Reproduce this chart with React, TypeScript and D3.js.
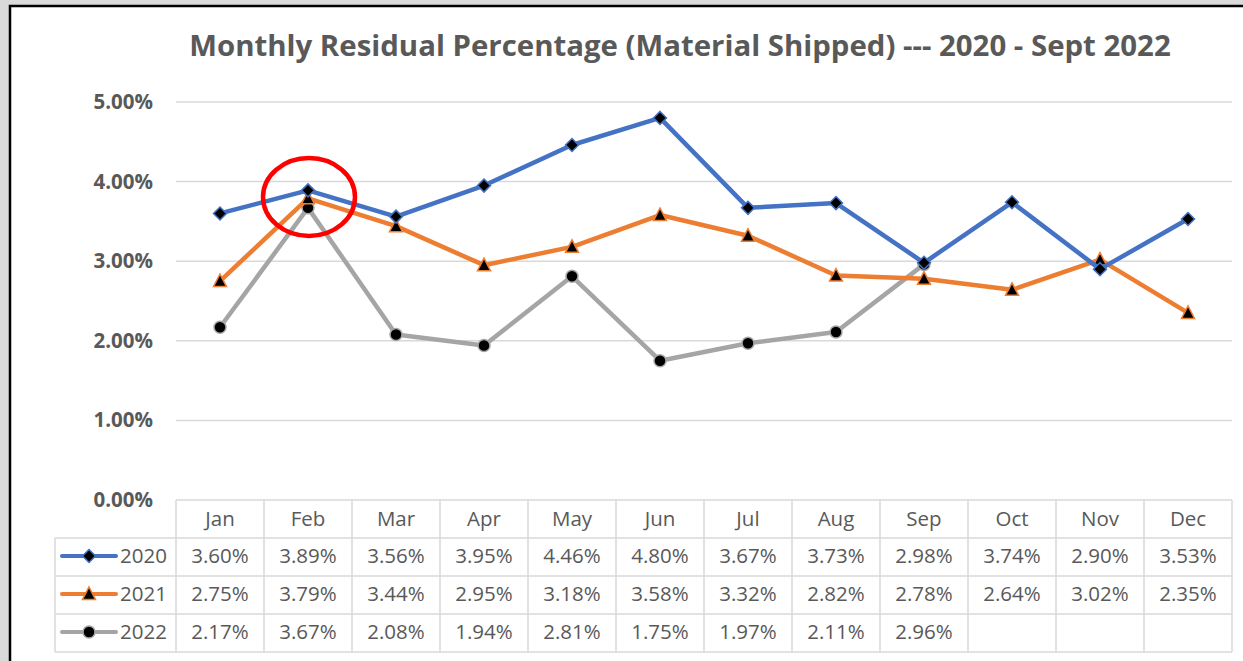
import React from 'react';
import * as d3 from 'd3';

const months = ['Jan', 'Feb', 'Mar', 'Apr', 'May', 'Jun', 'Jul', 'Aug', 'Sep', 'Oct', 'Nov', 'Dec'];
const years = ['2020', '2021', '2022'];
const values2020 = [3.6, 3.89, 3.56, 3.95, 4.46, 4.8, 3.67, 3.73, 2.98, 3.74, 2.9, 3.53];
const values2021 = [2.75, 3.79, 3.44, 2.95, 3.18, 3.58, 3.32, 2.82, 2.78, 2.64, 3.02, 2.35];
const values2022 = [2.17, 3.67, 2.08, 1.94, 2.81, 1.75, 1.97, 2.11, 2.96];
const yTicks = [0, 1, 2, 3, 4, 5];

const colors = ['#4472C4', '#ED7D31', '#A5A5A5'];
const textColor = '#595959';
const gridColor = '#d9d9d9';
const font = '"Open Sans", sans-serif';

const W = 1243;
const H = 661;
const plotLeft = 176;
const plotRight = 1232;
const tableTop = 500;
const rowH = 38;
const legendLeft = 55;

export default function App() {
  const series = [values2020, values2021, values2022];

  const x = d3.scaleBand<string>().domain(months).range([plotLeft, plotRight]);
  const y = d3.scaleLinear().domain([0, 5]).range([tableTop, 102]);
  const cx = (m: string) => (x(m) ?? 0) + x.bandwidth() / 2;

  const line = d3
    .line<number>()
    .x((_, i) => cx(months[i]))
    .y((d) => y(d));

  const marker = (k: number, px: number, py: number, key: string) => {
    if (k === 0) {
      return (
        <path key={key} d={`M${px},${py - 6.5}L${px + 6.5},${py}L${px},${py + 6.5}L${px - 6.5},${py}Z`}
          fill="#000" stroke={colors[0]} strokeWidth={1.5} />
      );
    }
    if (k === 1) {
      return (
        <path key={key} d={`M${px},${py - 7}L${px + 6.5},${py + 5.5}L${px - 6.5},${py + 5.5}Z`}
          fill="#000" stroke={colors[1]} strokeWidth={1.5} />
      );
    }
    return <circle key={key} cx={px} cy={py} r={6} fill="#000" stroke={colors[2]} strokeWidth={1.5} />;
  };

  const feb = cx('Feb');
  const fmt = d3.format('.2f');

  return (
    <svg width={W} height={H} style={{ position: 'absolute', left: 0, top: 0, fontFamily: font }}>
      <rect x={0} y={0} width={W} height={H} fill="#dadada" />
      <rect x={10} y={6} width={W + 10} height={H + 10} fill="#fff" stroke="#000" strokeWidth={2.5} />

      <text x={680} y={56} textAnchor="middle" fontSize={29.4} fontWeight="bold" fill={textColor}>
        Monthly Residual Percentage (Material Shipped) --- 2020 - Sept 2022
      </text>

      {yTicks.map((t) => (
        <g key={t}>
          {t > 0 && <line x1={plotLeft} x2={plotRight} y1={y(t)} y2={y(t)} stroke={gridColor} strokeWidth={1.5} />}
          <text x={153} y={y(t) + 7} textAnchor="end" fontSize={20.5} fontWeight="bold" fill={textColor}>
            {fmt(t)}%
          </text>
        </g>
      ))}

      {/* data table */}
      <g stroke={gridColor} strokeWidth={1.5} fill="none">
        <line x1={plotLeft} x2={plotRight} y1={tableTop} y2={tableTop} />
        {[1, 2, 3, 4].map((r) => (
          <line key={r} x1={legendLeft} x2={plotRight}
            y1={tableTop + r * rowH} y2={tableTop + r * rowH} />
        ))}
        <line x1={legendLeft} x2={legendLeft} y1={tableTop + rowH} y2={tableTop + 4 * rowH} />
        {months.map((m) => (
          <line key={m} x1={x(m)} x2={x(m)} y1={tableTop} y2={tableTop + 4 * rowH} />
        ))}
        <line x1={plotRight} x2={plotRight} y1={tableTop} y2={tableTop + 4 * rowH} />
      </g>
      {months.map((m) => (
        <text key={m} x={cx(m)} y={tableTop + 26} textAnchor="middle" fontSize={20.5} fill={textColor}>
          {m}
        </text>
      ))}
      {series.map((vals, k) => (
        <g key={k}>
          <line x1={62} x2={116} y1={tableTop + (k + 1) * rowH + 18} y2={tableTop + (k + 1) * rowH + 18}
            stroke={colors[k]} strokeWidth={4} strokeLinecap="round" />
          {marker(k, 89, tableTop + (k + 1) * rowH + 18, 'lg' + k)}
          <text x={120} y={tableTop + (k + 1) * rowH + 25} fontSize={20.5} fill={textColor}>{years[k]}</text>
          {vals.map((v, i) => (
            <text key={i} x={cx(months[i])} y={tableTop + (k + 1) * rowH + 25} textAnchor="middle"
              fontSize={20.5} fill={textColor}>
              {fmt(v)}%
            </text>
          ))}
        </g>
      ))}

      {/* lines, 2022 first so 2020 sits on top */}
      {[2, 1, 0].map((k) => (
        <g key={k}>
          <path d={line(series[k]) ?? ''} fill="none" stroke={colors[k]} strokeWidth={4.5}
            strokeLinejoin="round" strokeLinecap="round" />
          {series[k].map((v, i) => marker(k, cx(months[i]), y(v), `m${k}-${i}`))}
        </g>
      ))}

      <ellipse cx={feb + 1} cy={197} rx={46} ry={39} fill="none" stroke="#ff0000" strokeWidth={4.5} />
    </svg>
  );
}
